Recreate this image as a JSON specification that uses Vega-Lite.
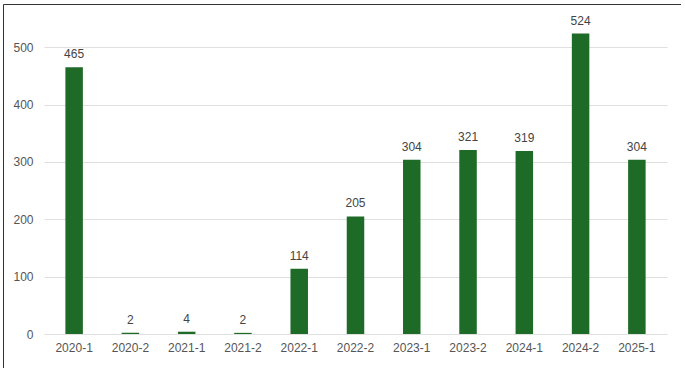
{
  "$schema": "https://vega.github.io/schema/vega-lite/v6.json",
  "width": 678,
  "height": 364,
  "autosize": "none",
  "padding": {"left": 3, "top": 4, "right": 0, "bottom": 0},
  "background": "white",
  "config": {
    "view": {"stroke": "#333333", "strokeWidth": 1},
    "font": "Liberation Sans"
  },
  "data": {
    "values": [
      {"period": "2020-1", "count": 465},
      {"period": "2020-2", "count": 2},
      {"period": "2021-1", "count": 4},
      {"period": "2021-2", "count": 2},
      {"period": "2022-1", "count": 114},
      {"period": "2022-2", "count": 205},
      {"period": "2023-1", "count": 304},
      {"period": "2023-2", "count": 321},
      {"period": "2024-1", "count": 319},
      {"period": "2024-2", "count": 524},
      {"period": "2025-1", "count": 304}
    ]
  },
  "encoding": {
    "x": {
      "field": "period",
      "type": "ordinal",
      "sort": null,
      "scale": {"range": [41, 664], "paddingInner": 0.689, "paddingOuter": 0.38},
      "axis": {
        "title": null,
        "labelAngle": 0,
        "domain": false,
        "ticks": false,
        "tickSize": 0,
        "labelPadding": 0,
        "offset": -26,
        "grid": false,
        "labelFont": "Liberation Sans",
        "labelFontSize": 12,
        "labelColor": "#555555"
      }
    },
    "y": {
      "field": "count",
      "type": "quantitative",
      "scale": {"domain": [0, 550], "range": [330, 14.6], "nice": false, "zero": true},
      "axis": {
        "title": null,
        "values": [0, 100, 200, 300, 400, 500],
        "grid": true,
        "gridColor": "#e0e0e0",
        "domain": false,
        "ticks": false,
        "tickSize": 0,
        "labelPadding": 0,
        "offset": -30,
        "labelFont": "Liberation Sans",
        "labelFontSize": 12,
        "labelColor": "#555555"
      }
    }
  },
  "layer": [
    {"mark": {"type": "bar", "color": "#1e6b28"}},
    {
      "mark": {"type": "text", "dy": -9, "baseline": "alphabetic", "fontSize": 12, "color": "#444444", "font": "Liberation Sans"},
      "encoding": {"text": {"field": "count", "type": "quantitative"}}
    }
  ]
}
